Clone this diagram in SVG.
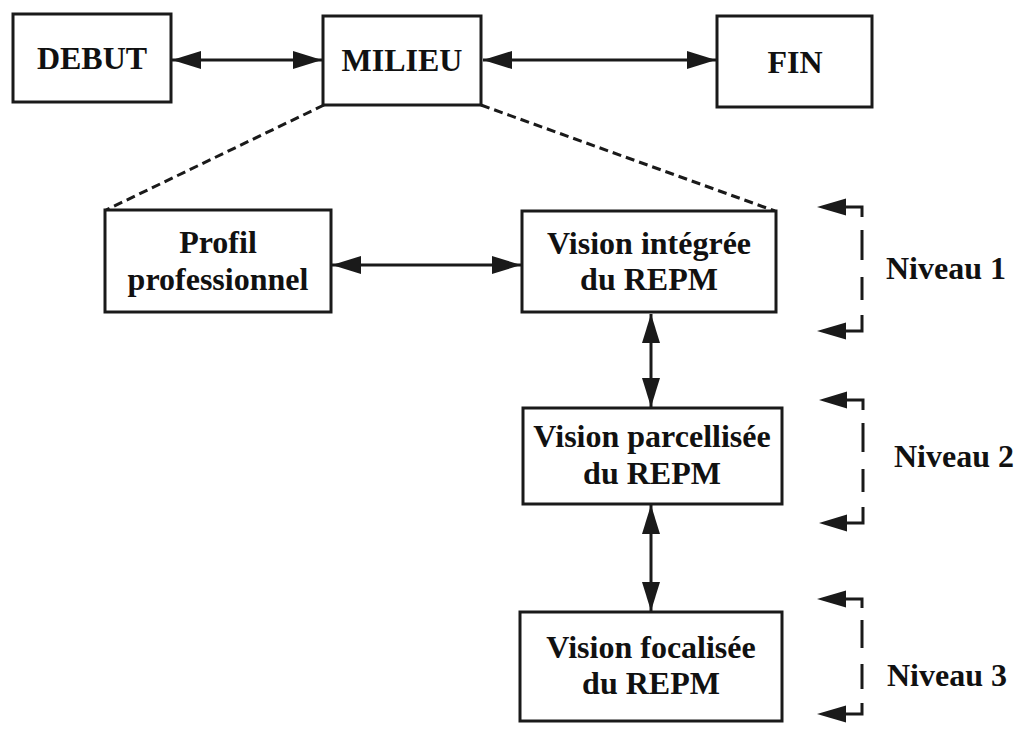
<svg xmlns="http://www.w3.org/2000/svg" width="1019" height="729" viewBox="0 0 1019 729">
  <style>
    .box { fill: #ffffff; stroke: #1a1a1a; stroke-width: 3; }
    .lbl { font-family: "Liberation Serif", "Times New Roman", serif; font-weight: bold; font-size: 32px; fill: #111111; text-anchor: middle; }
    .link { fill: none; stroke: #1a1a1a; stroke-width: 3; }
    .zoom { fill: none; stroke: #1a1a1a; stroke-width: 3; stroke-dasharray: 9 5; }
    .brk { fill: none; stroke: #1a1a1a; stroke-width: 3; }
    .head { fill: #1a1a1a; }
  </style>
  <defs>
    <marker id="arr" markerUnits="userSpaceOnUse" markerWidth="30" markerHeight="20" refX="29" refY="10" orient="auto-start-reverse">
      <path d="M0,1 L29,10 L0,19 z" fill="#1a1a1a"/>
    </marker>
  </defs>
  <rect width="1019" height="729" fill="#ffffff"/>

  <!-- connectors -->
  <g id="connectors">
    <line class="link" x1="172" y1="60" x2="322" y2="60" marker-start="url(#arr)" marker-end="url(#arr)"/>
    <line class="link" x1="483" y1="60" x2="716" y2="60" marker-start="url(#arr)" marker-end="url(#arr)"/>
    <line class="zoom" x1="324" y1="105" x2="106" y2="210"/>
    <line class="zoom" x1="481" y1="105" x2="775" y2="211"/>
    <line class="link" x1="332" y1="265" x2="521" y2="265" marker-start="url(#arr)" marker-end="url(#arr)"/>
    <line class="link" x1="651" y1="314" x2="651" y2="407" marker-start="url(#arr)" marker-end="url(#arr)"/>
    <line class="link" x1="651" y1="505" x2="651" y2="611" marker-start="url(#arr)" marker-end="url(#arr)"/>
  </g>

  <!-- top row -->
  <g id="debut">
    <rect class="box" x="13" y="14" width="158" height="88"/>
    <text class="lbl" x="92" y="69">DEBUT</text>
  </g>
  <g id="milieu">
    <rect class="box" x="323" y="16" width="158" height="89"/>
    <text class="lbl" x="402" y="71">MILIEU</text>
  </g>
  <g id="fin">
    <rect class="box" x="717" y="16" width="155" height="91"/>
    <text class="lbl" x="795" y="73">FIN</text>
  </g>

  <!-- detail of MILIEU -->
  <g id="profil">
    <rect class="box" x="105" y="210" width="226" height="102"/>
    <text class="lbl" x="218" y="253">Profil</text>
    <text class="lbl" x="218" y="290">professionnel</text>
  </g>
  <g id="vision-integree">
    <rect class="box" x="522" y="211" width="254" height="101"/>
    <text class="lbl" x="649" y="254">Vision intégrée</text>
    <text class="lbl" x="649" y="290">du REPM</text>
  </g>
  <g id="vision-parcellisee">
    <rect class="box" x="523" y="408" width="259" height="96"/>
    <text class="lbl" x="652" y="447">Vision parcellisée</text>
    <text class="lbl" x="652" y="484">du REPM</text>
  </g>
  <g id="vision-focalisee">
    <rect class="box" x="520" y="612" width="262" height="109"/>
    <text class="lbl" x="651" y="658">Vision focalisée</text>
    <text class="lbl" x="651" y="694">du REPM</text>
  </g>

  <!-- level brackets -->
  <g id="niveau-1">
    <path class="brk" d="M845,207 H862 V217 M862,230 V260 M862,277 V300 M862,315 V331 H845"/>
    <path class="head" d="M817,207 L846,198.5 L846,215.5 z"/>
    <path class="head" d="M817,331 L846,322.5 L846,339.5 z"/>
    <text class="lbl" x="946" y="279">Niveau 1</text>
  </g>
  <g id="niveau-2">
    <path class="brk" d="M846,400 H863 V410 M863,423 V452 M863,469 V492 M863,507 V523 H846"/>
    <path class="head" d="M819,400 L847,391.5 L847,408.5 z"/>
    <path class="head" d="M819,523 L847,514.5 L847,531.5 z"/>
    <text class="lbl" x="954" y="467">Niveau 2</text>
  </g>
  <g id="niveau-3">
    <path class="brk" d="M845,599 H862 V608 M862,620 V648 M862,664 V689 M862,703 V714 H845"/>
    <path class="head" d="M817,599 L846,590.5 L846,607.5 z"/>
    <path class="head" d="M817,714 L846,705.5 L846,722.5 z"/>
    <text class="lbl" x="947" y="686">Niveau 3</text>
  </g>
</svg>
